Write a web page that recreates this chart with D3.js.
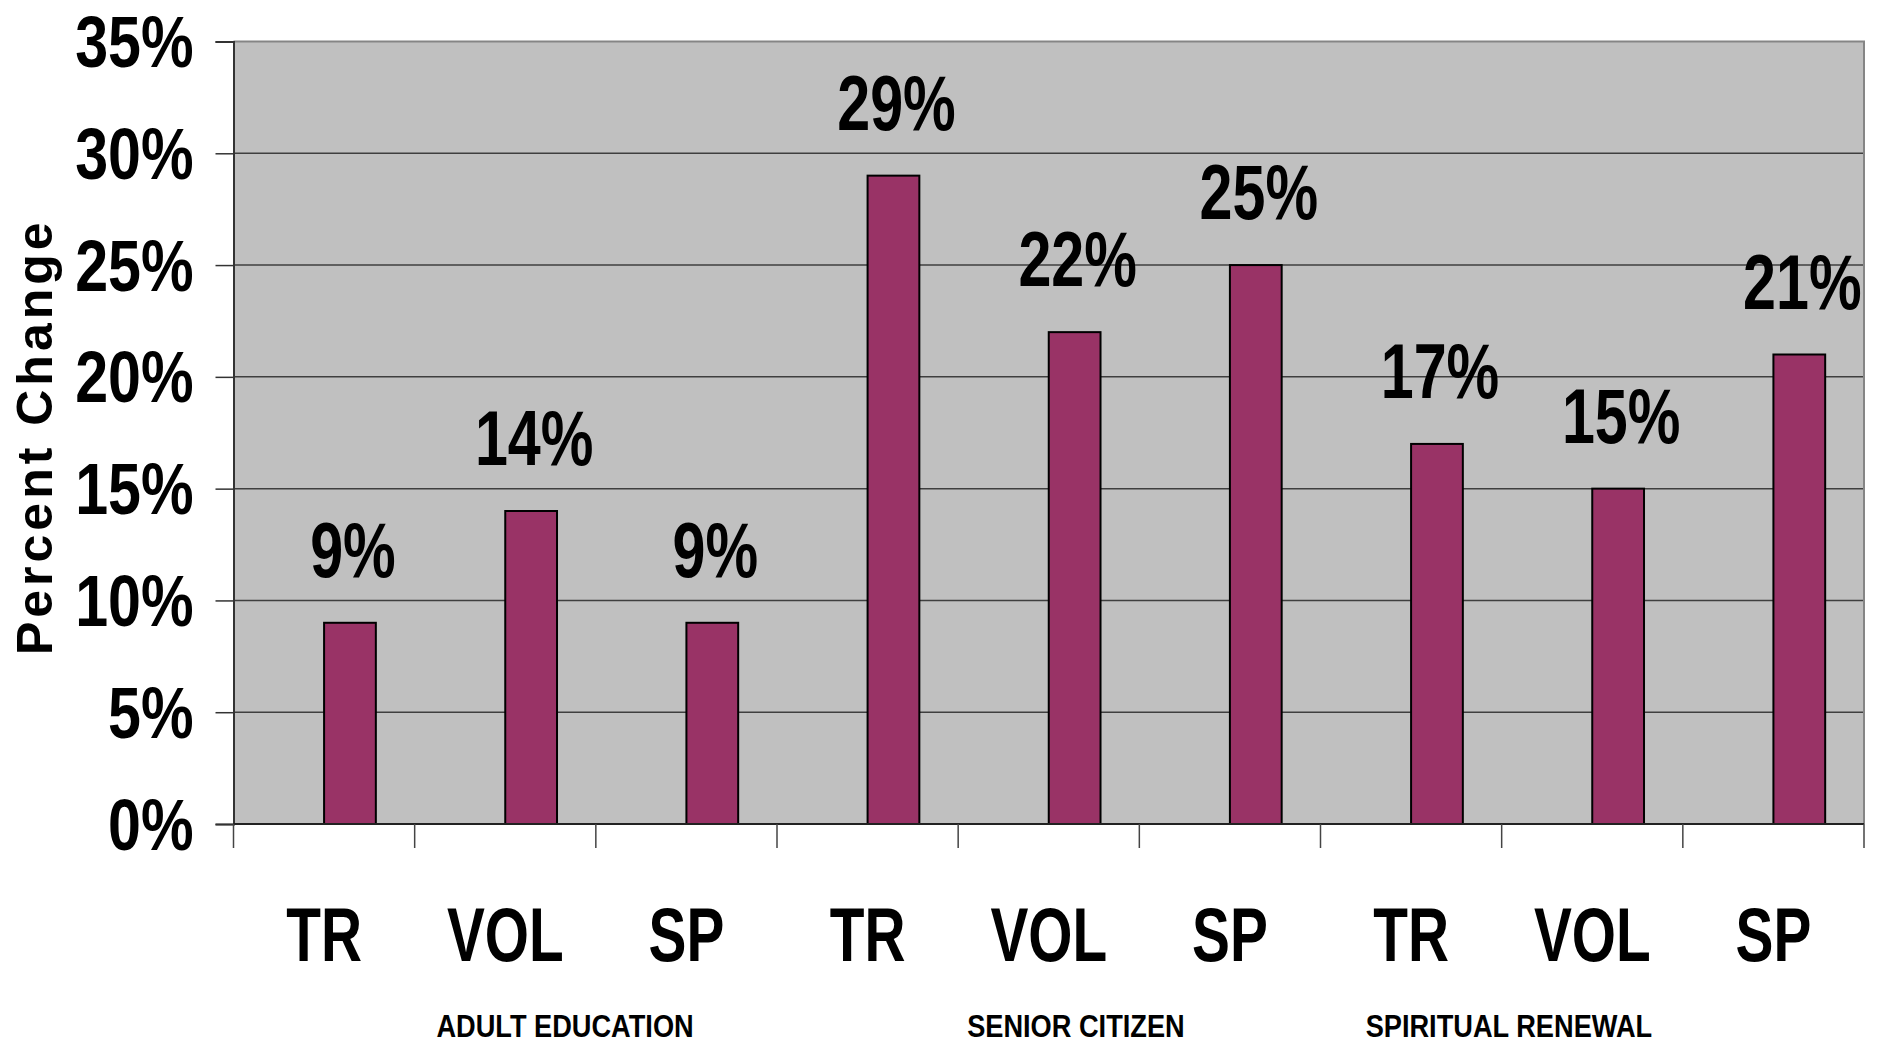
<!DOCTYPE html>
<html>
<head>
<meta charset="utf-8">
<script src="https://cdn.jsdelivr.net/npm/d3@7"></script>
<style>
  html, body { margin: 0; padding: 0; background: #ffffff; }
  svg { display: block; }
</style>
</head>
<body>
<svg id="chart" width="1885" height="1045"></svg>
<script>
// ---- data ----
const categories = ["TR", "VOL", "SP", "TR", "VOL", "SP", "TR", "VOL", "SP"];
const groups = ["ADULT EDUCATION", "SENIOR CITIZEN", "SPIRITUAL RENEWAL"];
const groupOf = [0, 0, 0, 1, 1, 1, 2, 2, 2];
const values = [9, 14, 9, 29, 22, 25, 17, 15, 21];
const seriesNames = ["(blank)", "Percent Change"];
const yTicks = [0, 5, 10, 15, 20, 25, 30, 35];
const yTickLabels = ["0%", "5%", "10%", "15%", "20%", "25%", "30%", "35%"];
const yTitle = "Percent Change";

// ---- layout ----
const W = 1885, H = 1045;
const plot = { left: 233.5, right: 1864, top: 41.5, bottom: 824 };
const FONT = "'Liberation Sans', Arial, sans-serif";
const NARROW = 0.8;

const svg = d3.select("#chart");
const idx = categories.map((d, i) => i);

const x = d3.scaleBand().domain(idx).range([plot.left, plot.right]).padding(0);
const xs = d3.scaleBand().domain(seriesNames).range([0, x.bandwidth()])
  .paddingInner(0).paddingOuter(0.75);
const y = d3.scaleLinear().domain([0, 35]).range([plot.bottom, plot.top]);

// plot background
svg.append("rect")
  .attr("x", plot.left).attr("y", plot.top)
  .attr("width", plot.right - plot.left).attr("height", plot.bottom - plot.top)
  .attr("fill", "#c0c0c0");

// gridlines
svg.append("g").selectAll("line").data(yTicks.filter(t => t > 0 && t < 35)).join("line")
  .attr("x1", plot.left).attr("x2", plot.right)
  .attr("y1", d => y(d)).attr("y2", d => y(d))
  .attr("stroke", "#3f3f3f").attr("stroke-width", 1.5);

// frame top & right
svg.append("path")
  .attr("d", `M${plot.left},${plot.top}H${plot.right}V${plot.bottom}`)
  .attr("fill", "none").attr("stroke", "#858585").attr("stroke-width", 2);

// bars
svg.append("g").selectAll("rect").data(values).join("rect")
  .attr("x", (d, i) => x(i) + xs(seriesNames[1]))
  .attr("width", xs.bandwidth())
  .attr("y", d => y(d))
  .attr("height", d => y(0) - y(d))
  .attr("fill", "#993366")
  .attr("stroke", "#000").attr("stroke-width", 2);

// y axis
const yAxis = d3.axisLeft(y).tickValues(yTicks).tickSize(18).tickFormat((d, i) => yTickLabels[i]);
const gy = svg.append("g").attr("transform", `translate(${plot.left},0)`).call(yAxis);
gy.select(".domain").attr("stroke", "#333").attr("stroke-width", 2);
gy.selectAll(".tick line").attr("stroke", "#333").attr("stroke-width", 1.5);
gy.selectAll(".tick text").remove();
gy.selectAll(".tick").append("g")
  .attr("transform", `translate(-40,25) scale(0.81,1)`)
  .append("text")
  .attr("text-anchor", "end")
  .attr("font-family", FONT).attr("font-weight", "bold").attr("font-size", 73)
  .attr("fill", "#000")
  .text((d, i) => yTickLabels[i]);

// x axis (category boundaries)
const xEdges = idx.map(i => x(i)).concat([plot.right]);
const gx = svg.append("g");
gx.append("line").attr("x1", plot.left).attr("x2", plot.right)
  .attr("y1", plot.bottom).attr("y2", plot.bottom)
  .attr("stroke", "#222").attr("stroke-width", 2);
gx.selectAll("line.tk").data(xEdges).join("line").attr("class", "tk")
  .attr("x1", d => d).attr("x2", d => d)
  .attr("y1", plot.bottom).attr("y2", plot.bottom + 24)
  .attr("stroke", "#444").attr("stroke-width", 1.5);

// category labels
gx.selectAll("g.cat").data(categories).join("g").attr("class", "cat")
  .attr("transform", (d, i) => `translate(${x(i) + x.bandwidth() / 2},961) scale(${NARROW},1.08)`)
  .append("text")
  .attr("text-anchor", "middle")
  .attr("font-family", FONT).attr("font-weight", "bold").attr("font-size", 71)
  .attr("fill", "#000")
  .text(d => d);

// group labels (positions in category units)
const groupLabelPos = [1.33, 4.15, 6.54];
gx.selectAll("g.grp").data(groups).join("g").attr("class", "grp")
  .attr("transform", (d, i) => `translate(${plot.left + (groupLabelPos[i] + 0.5) * x.step()},1037) scale(0.85,1)`)
  .append("text")
  .attr("text-anchor", "middle")
  .attr("font-family", FONT).attr("font-weight", "bold").attr("font-size", 32)
  .attr("fill", "#000")
  .text(d => d);

// value labels
svg.append("g").selectAll("g").data(values).join("g")
  .attr("transform", (d, i) => `translate(${x(i) + xs(seriesNames[1]) + xs.bandwidth() / 2 + 3},${y(d) - 46}) scale(${NARROW},1.05)`)
  .append("text")
  .attr("text-anchor", "middle")
  .attr("font-family", FONT).attr("font-weight", "bold").attr("font-size", 74)
  .attr("fill", "#000")
  .text(d => d + "%");

// y title
svg.append("text")
  .attr("transform", `translate(52,${(plot.top + plot.bottom) / 2 + 4}) rotate(-90)`)
  .attr("text-anchor", "middle")
  .attr("font-family", FONT).attr("font-weight", "bold").attr("font-size", 50)
  .attr("letter-spacing", 4)
  .attr("fill", "#000")
  .text(yTitle);
</script>
</body>
</html>
